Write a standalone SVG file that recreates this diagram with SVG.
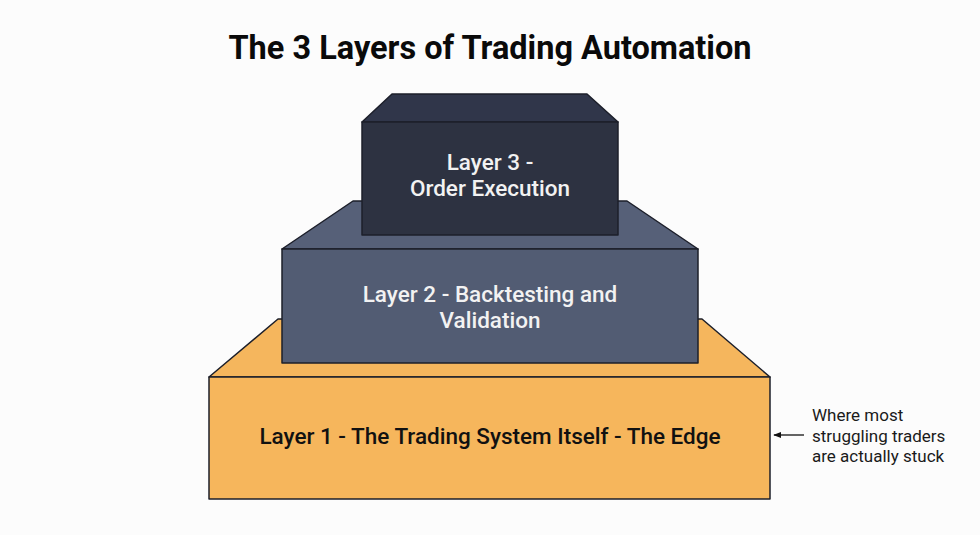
<svg xmlns="http://www.w3.org/2000/svg" width="980" height="535" viewBox="0 0 980 535">
<defs>
<style>
.edge{stroke:#1c1f2a;stroke-width:1.5;stroke-linejoin:round}
.l1{fill:#f6b65c}
.l1t{fill:#f5b65d}
.l2{fill:#525c73}
.l2t{fill:#566078}
.l3{fill:#2d3241}
.l3t{fill:#30364a}
.title{font-family:Roboto,"Liberation Sans",sans-serif;font-weight:700;font-size:32.5px;fill:#0a0a0a;text-anchor:middle}
.lbl{font-family:Roboto,"Liberation Sans",sans-serif;font-weight:500;font-size:22.5px;text-anchor:middle}
.w{fill:#f2f2f2}
.k{fill:#111}
.note{font-family:Roboto,"Liberation Sans",sans-serif;font-size:17px;fill:#1a1a1a}
</style>
<marker id="ah" viewBox="0 0 10 10" refX="9" refY="5" markerWidth="8" markerHeight="8" orient="auto-start-reverse" markerUnits="userSpaceOnUse">
<path d="M0,1 L10,5 L0,9 Z" fill="#111"/>
</marker>
</defs>
<rect width="980" height="535" fill="#fcfcfc"/>
<text class="title" x="490" y="59">The 3 Layers of Trading Automation</text>

<g id="layer1">
<polygon class="l1t edge" points="209,377 278,319 702,319 770,377"/>
<rect class="l1 edge" x="209" y="377" width="561" height="122"/>
<text class="lbl k" x="490" y="444">Layer 1 - The Trading System Itself - The Edge</text>
</g>

<g id="layer2">
<polygon class="l2t edge" points="282,249 353,201 627,201 698,249"/>
<rect class="l2 edge" x="282" y="249" width="416" height="114"/>
<text class="lbl w" x="490" y="302">Layer 2 - Backtesting and</text>
<text class="lbl w" x="490" y="328">Validation</text>
</g>

<g id="layer3">
<polygon class="l3t edge" points="362,122 392,94 587,94 618,122"/>
<rect class="l3 edge" x="362" y="122" width="256" height="113"/>
<text class="lbl w" x="490" y="170">Layer 3 -</text>
<text class="lbl w" x="490" y="196">Order Execution</text>
</g>

<g id="note">
<text class="note" x="812" y="421">Where most</text>
<text class="note" x="812" y="442">struggling traders</text>
<text class="note" x="812" y="462">are actually stuck</text>
</g>

<g id="connectors">
<line x1="804" y1="435" x2="774" y2="435" stroke="#111" stroke-width="1.3" marker-end="url(#ah)"/>
</g>
</svg>
